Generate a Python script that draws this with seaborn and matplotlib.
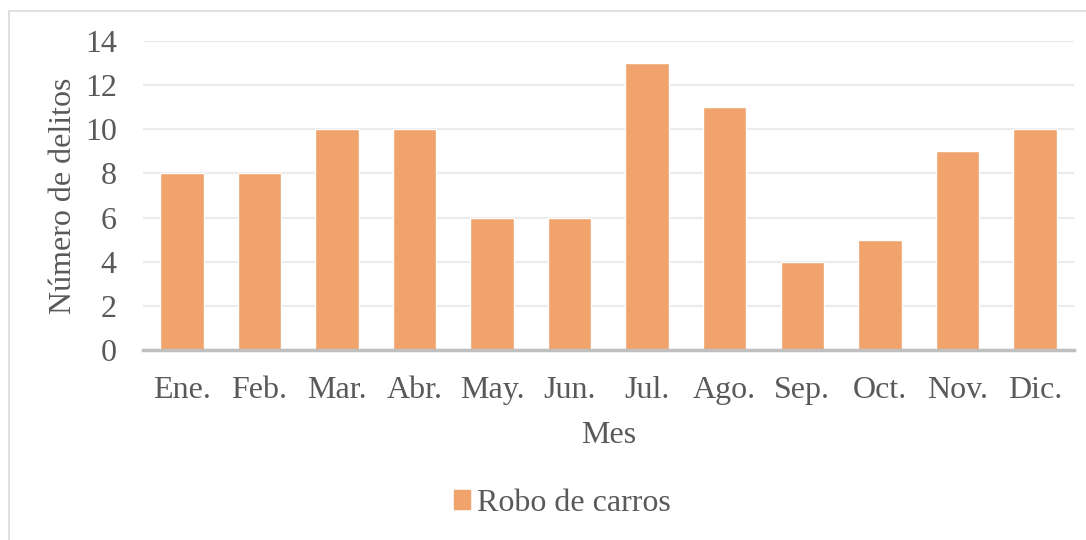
import seaborn as sns
import pandas as pd
import matplotlib.pyplot as plt
from matplotlib.patches import Rectangle

meses = ["Ene.", "Feb.", "Mar.", "Abr.", "May.", "Jun.", "Jul.", "Ago.", "Sep.", "Oct.", "Nov.", "Dic."]
robos = [8, 8, 10, 10, 6, 6, 13, 11, 4, 5, 9, 10]
serie = "Robo de carros"

df = pd.DataFrame({"Mes": meses, "valor": robos, "serie": serie})

sns.set_theme()
sns.set_style("white")
plt.rcParams["font.family"] = ["Liberation Serif", "DejaVu Serif"]
gris = "#595959"
naranja = "#F0A36C"
fs = 23

fig = plt.figure(figsize=(10.86, 5.4), dpi=100)
ax = fig.add_axes([0.1317, 0.352, 0.857, 0.572])

sns.barplot(data=df, x="Mes", y="valor", hue="serie", palette=[naranja],
            width=0.56, saturation=1, ax=ax, legend=False, zorder=3)

ax.set_ylim(0, 14)
ax.set_yticks(range(0, 15, 2))
ax.set_xlim(-0.5, len(meses) - 0.5)
ax.yaxis.grid(True, color="#EBEBEB", linewidth=1.6, zorder=0)
ax.set_axisbelow(True)
for s in ["top", "right", "left"]:
    ax.spines[s].set_visible(False)
ax.spines["bottom"].set_color("#BFBFBF")
ax.spines["bottom"].set_linewidth(2.5)
ax.spines["bottom"].set_zorder(4)
ax.tick_params(axis="both", length=0, labelsize=fs, labelcolor=gris)
ax.tick_params(axis="x", pad=19)
ax.tick_params(axis="y", pad=19)
ax.set_xlabel("Mes", fontsize=fs, color=gris, labelpad=11)
ax.set_ylabel("Número de delitos", fontsize=fs, color=gris, labelpad=5)

handle = Rectangle((0, 0), 1, 1, color=naranja)
fig.legend([handle], [serie], loc="center", bbox_to_anchor=(0.518, 0.068),
           frameon=False, fontsize=fs, labelcolor=gris, handlelength=0.5,
           handleheight=0.5, handletextpad=0.2)

# marco del grafico
fig.patches.append(Rectangle((9 / 1086, -0.05), 1.1, 1 - 11 / 540 + 0.05,
                             transform=fig.transFigure, fill=False,
                             edgecolor="#D9D9D9", linewidth=1.2))

fig.savefig("out.png", dpi=100)
